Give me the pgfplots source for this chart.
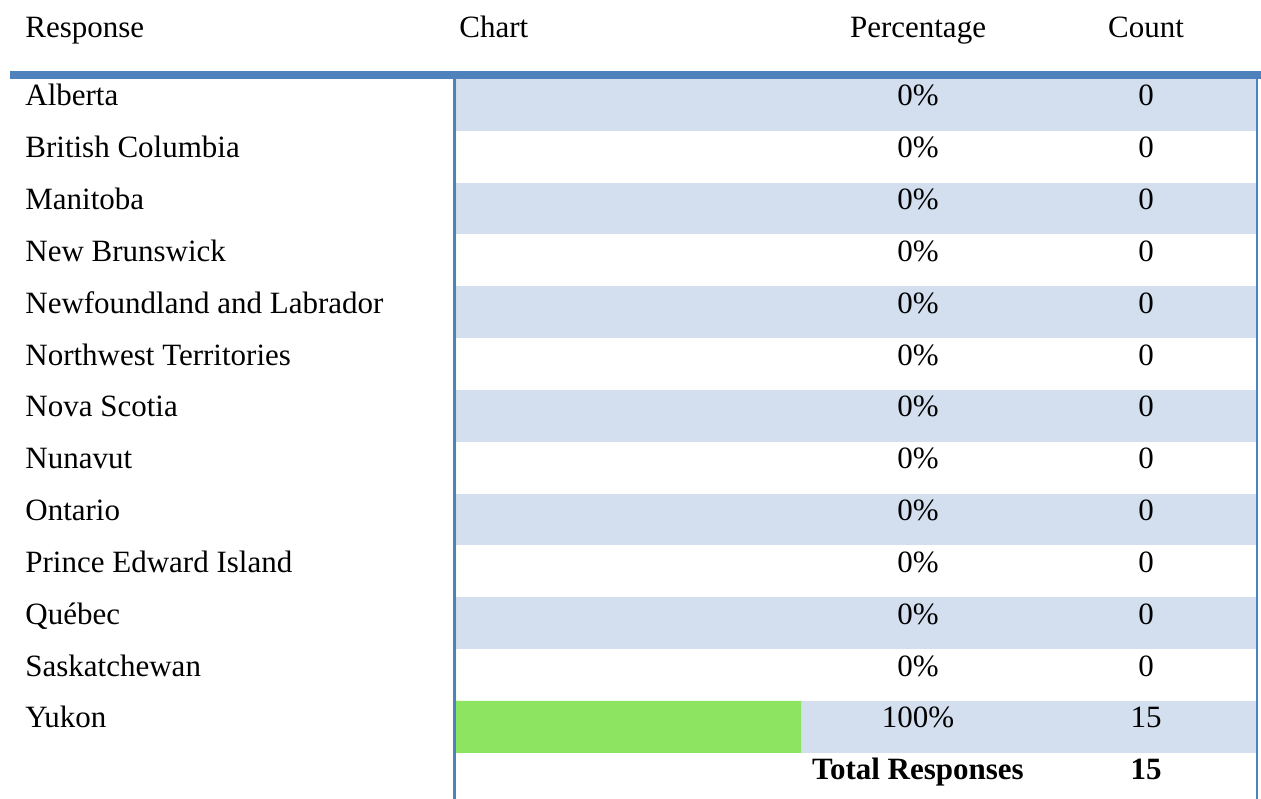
\documentclass[border=0pt]{standalone}
\usepackage{fontspec}
\setmainfont{Liberation Serif}
\usepackage{pgfplots}
\usepackage{pgfplotstable}
\pgfplotsset{compat=1.18}

\definecolor{rule}{HTML}{4F81BD}
\definecolor{band}{HTML}{D3DFEE}
\definecolor{bargreen}{HTML}{8DE461}

\pgfplotstableread[col sep=comma]{
name,pct,count
Alberta,0,0
British Columbia,0,0
Manitoba,0,0
New Brunswick,0,0
Newfoundland and Labrador,0,0
Northwest Territories,0,0
Nova Scotia,0,0
Nunavut,0,0
Ontario,0,0
Prince Edward Island,0,0
Québec,0,0
Saskatchewan,0,0
Yukon,100,15
}\provinces

\begin{document}
\fontsize{15.5bp}{18bp}\selectfont
\begin{tikzpicture}
\begin{axis}[
  scale only axis, width=630.5bp, height=399.5bp,
  xmin=-132.174, xmax=233.333,
  ymin=-1.5242, ymax=13.8916, y dir=reverse,
  hide axis, clip=false,
  ]
% background of the chart area
\draw[draw=none] (rel axis cs:0,0) rectangle (rel axis cs:1,1);
\fill[band] (axis cs:0,0) rectangle (axis cs:231.88,1);
\fill[band] (axis cs:0,2) rectangle (axis cs:231.88,3);
\fill[band] (axis cs:0,4) rectangle (axis cs:231.88,5);
\fill[band] (axis cs:0,6) rectangle (axis cs:231.88,7);
\fill[band] (axis cs:0,8) rectangle (axis cs:231.88,9);
\fill[band] (axis cs:0,10) rectangle (axis cs:231.88,11);
\fill[band] (axis cs:0,12) rectangle (axis cs:231.88,13);

% the bars
\addplot[xbar, bar width=1, fill=bargreen, draw=none]
  table[x=pct, y expr=\coordindex+0.5]{\provinces};

% frame lines
\fill[rule] (axis cs:-129.28,-0.154) rectangle (axis cs:233.333,0);
\fill[rule] (axis cs:-0.87,0) rectangle (axis cs:0,13.8916);
\fill[rule] (axis cs:231.88,0) rectangle (axis cs:232.6,13.8916);

% headers
\node[anchor=base west, inner sep=0pt] at (axis cs:-124.93,-0.81) {Response};
\node[anchor=base west, inner sep=0pt] at (axis cs:0.87,-0.81) {Chart};
\node[anchor=base, inner sep=0pt] at (axis cs:133.91,-0.81) {Percentage};
\node[anchor=base, inner sep=0pt] at (axis cs:200,-0.81) {Count};

% row texts
\addplot[draw=none, mark=none, point meta=explicit symbolic,
  nodes near coords, nodes near coords style={anchor=base west, inner sep=0pt}]
  table[x expr=-124.93, y expr=\coordindex+0.52, meta=name]{\provinces};
\addplot[draw=none, mark=none, point meta=explicit symbolic,
  nodes near coords={\pgfplotspointmeta\%},
  nodes near coords style={anchor=base, inner sep=0pt}]
  table[x expr=133.91, y expr=\coordindex+0.52, meta=pct]{\provinces};
\addplot[draw=none, mark=none, point meta=explicit symbolic,
  nodes near coords, nodes near coords style={anchor=base, inner sep=0pt}]
  table[x expr=200, y expr=\coordindex+0.52, meta=count]{\provinces};

% total row
\node[anchor=base, inner sep=0pt] at (axis cs:133.91,13.52) {\bfseries Total Responses};
\node[anchor=base, inner sep=0pt] at (axis cs:200,13.52) {\bfseries 15};
\end{axis}
\end{tikzpicture}
\end{document}
